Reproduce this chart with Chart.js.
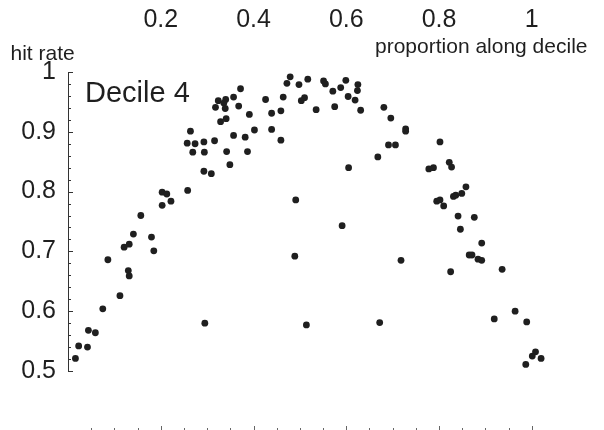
<!DOCTYPE html>
<html>
<head>
<meta charset="utf-8">
<title>Decile 4</title>
<script src="https://cdn.jsdelivr.net/npm/chart.js@4"></script>
<style>
  html, body { margin: 0; padding: 0; background: #fff; }
  canvas { display: block; }
</style>
</head>
<body>
<canvas id="hitChart" width="604" height="430"></canvas>
<script>
// proportion along decile (x) and hit rate (y) for each sample
const proportion = [
  0.016, 0.023, 0.042, 0.044, 0.059, 0.075, 0.086, 0.112, 0.121, 0.132,
  0.130, 0.132, 0.141, 0.157, 0.180, 0.185, 0.203, 0.213, 0.203, 0.222,
  0.258, 0.269, 0.294, 0.342, 0.387, 0.293, 0.309, 0.349, 0.295, 0.264,
  0.257, 0.274, 0.293, 0.316, 0.357, 0.382, 0.372, 0.357, 0.324, 0.340,
  0.336, 0.318, 0.339, 0.368, 0.391, 0.341, 0.329, 0.402, 0.426, 0.439,
  0.439, 0.459, 0.459, 0.464, 0.472, 0.479, 0.498, 0.503, 0.510, 0.517,
  0.535, 0.551, 0.555, 0.571, 0.575, 0.588, 0.599, 0.604, 0.619, 0.625,
  0.624, 0.631, 0.681, 0.696, 0.728, 0.728, 0.691, 0.706, 0.668, 0.605,
  0.778, 0.788, 0.802, 0.822, 0.827, 0.858, 0.849, 0.831, 0.836, 0.795,
  0.802, 0.810, 0.841, 0.876, 0.846, 0.892, 0.591, 0.865, 0.871, 0.884,
  0.892, 0.718, 0.825, 0.936, 0.491, 0.489, 0.514, 0.672, 0.919, 0.964,
  0.989, 1.008, 1.001, 1.020, 0.987
];
const hitRate = [
  0.521, 0.542, 0.540, 0.568, 0.564, 0.604, 0.686, 0.626, 0.707, 0.712,
  0.668, 0.659, 0.729, 0.760, 0.724, 0.701, 0.799, 0.796, 0.777, 0.784,
  0.802, 0.866, 0.866, 0.867, 0.867, 0.834, 0.830, 0.845, 0.580, 0.901,
  0.881, 0.880, 0.883, 0.885, 0.894, 0.891, 0.972, 0.958, 0.952, 0.954,
  0.948, 0.941, 0.939, 0.943, 0.929, 0.922, 0.917, 0.903, 0.954, 0.931,
  0.904, 0.935, 0.886, 0.958, 0.981, 0.992, 0.979, 0.952, 0.957, 0.988,
  0.937, 0.985, 0.980, 0.968, 0.942, 0.974, 0.986, 0.959, 0.953, 0.979,
  0.969, 0.936, 0.941, 0.923, 0.905, 0.901, 0.878, 0.878, 0.858, 0.840,
  0.838, 0.840, 0.883, 0.849, 0.841, 0.808, 0.797, 0.792, 0.794, 0.784,
  0.786, 0.776, 0.759, 0.757, 0.737, 0.714, 0.743, 0.694, 0.694, 0.687,
  0.685, 0.685, 0.666, 0.670, 0.786, 0.692, 0.577, 0.581, 0.587, 0.600,
  0.582, 0.532, 0.525, 0.521, 0.511
];

// tick labels along the top and down the left
const xTickLabels = [0.2, 0.4, 0.6, 0.8, 1];
const yTickLabels = [0.5, 0.6, 0.7, 0.8, 0.9, 1];

const FONT = '"Liberation Sans", Arial, Helvetica, sans-serif';
const INK = '#1f1f1f';

const points = proportion.map((x, i) => ({ x: x, y: hitRate[i] }));

// little inward tick marks on the left axis and along the bottom edge, plus the free text
const extras = {
  id: 'extras',
  afterDraw(chart) {
    const ctx = chart.ctx;
    const xs = chart.scales.x;
    const ys = chart.scales.y;
    const left = chart.chartArea.left;
    ctx.save();
    ctx.strokeStyle = '#333';
    ctx.lineWidth = 1;
    ctx.beginPath();
    for (let k = 0; k <= 25; k++) {
      const v = 0.5 + k * 0.02;
      const py = Math.round(ys.getPixelForValue(v)) + 0.5;
      const len = k % 5 === 0 ? 5 : 3;
      ctx.moveTo(left, py);
      ctx.lineTo(left + len, py);
    }
    ctx.stroke();

    ctx.strokeStyle = '#666';
    ctx.beginPath();
    const h = chart.height;
    for (let k = 1; k <= 20; k++) {
      const v = k * 0.05;
      const px = Math.round(xs.getPixelForValue(v)) + 0.5;
      const len = k % 4 === 0 ? 4 : 2;
      ctx.moveTo(px, h);
      ctx.lineTo(px, h - len);
    }
    ctx.stroke();

    ctx.fillStyle = INK;
    ctx.textBaseline = 'alphabetic';
    ctx.textAlign = 'left';
    ctx.font = '21px ' + FONT;
    ctx.fillText('hit rate', 10.5, 60);
    ctx.fillText('proportion along decile', 375, 53);
    ctx.font = '29px ' + FONT;
    ctx.fillText('Decile 4', 85, 102);
    ctx.restore();
  }
};

new Chart(document.getElementById('hitChart'), {
  type: 'scatter',
  data: {
    datasets: [{
      data: points,
      backgroundColor: INK,
      borderWidth: 0,
      pointRadius: 3.4,
      pointHoverRadius: 3.4
    }]
  },
  options: {
    responsive: false,
    animation: false,
    clip: false,
    layout: { padding: { left: 0, right: 49, top: 0, bottom: 59 } },
    plugins: {
      legend: { display: false },
      tooltip: { enabled: false }
    },
    scales: {
      x: {
        type: 'linear',
        position: 'top',
        min: 0,
        max: 1.05,
        afterFit(scale) { scale.height = 72; },
        afterBuildTicks(scale) {
          scale.ticks = xTickLabels.map(v => ({ value: v }));
        },
        border: { display: false },
        grid: { display: false, drawTicks: false },
        ticks: {
          padding: 37,
          color: INK,
          font: { family: FONT, size: 25 },
          maxRotation: 0,
          callback: v => String(+v.toFixed(1))
        }
      },
      y: {
        type: 'linear',
        min: 0.5,
        max: 1,
        afterFit(scale) { scale.width = 68; },
        afterBuildTicks(scale) {
          scale.ticks = yTickLabels.map(v => ({ value: v }));
        },
        border: { display: true, color: '#333', width: 1 },
        grid: { drawOnChartArea: false, drawTicks: false },
        ticks: {
          padding: 12,
          color: INK,
          font: { family: FONT, size: 25 },
          callback: v => String(+v.toFixed(1))
        }
      }
    }
  },
  plugins: [extras]
});
</script>
</body>
</html>
